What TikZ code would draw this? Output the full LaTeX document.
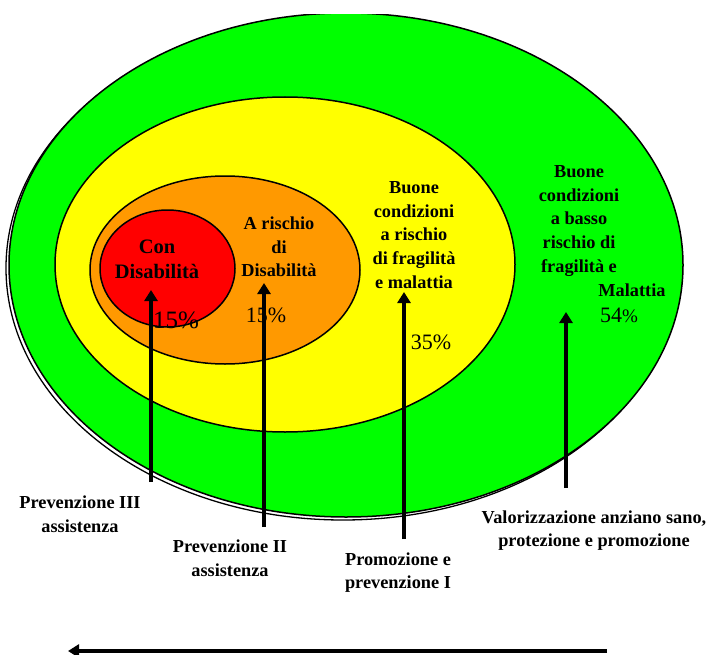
\documentclass[tikz,border=0pt]{standalone}
\usepackage{fontspec}
\setmainfont{Liberation Serif}
\usetikzlibrary{arrows.meta}
\definecolor{cgreen}{HTML}{00FF00}
\definecolor{cyellow}{HTML}{FFFF00}
\definecolor{corange}{HTML}{FF9900}
\definecolor{cred}{HTML}{FF0000}
\tikzset{
  ring/.style={draw=black, line width=1.5bp},
  lbl/.style={font=\bfseries\fontsize{18.3bp}{23.7bp}\selectfont, align=center, inner sep=0pt},
  pct/.style={font=\fontsize{22bp}{24bp}\selectfont, inner sep=0pt},
  uparrow/.style={line width=4.5bp, -{Triangle[width=13bp,length=11bp]}},
  timearrow/.style={line width=3.5bp, -{Triangle[width=13bp,length=11bp]}}
}
\begin{document}
\begin{tikzpicture}[x=1bp,y=-1bp]
\useasboundingbox (0,0) rectangle (709,655);
% rings
\begin{scope}
  \clip (0,15) rectangle (709,655);
  \draw[line width=1.3bp] (343,268) ellipse [x radius=337, y radius=252];
  \draw[ring, fill=cgreen] (346,265) ellipse [x radius=337, y radius=252];
\end{scope}
\draw[ring, fill=cyellow] (285,264.5) ellipse [x radius=230, y radius=167.5];
\draw[ring, fill=corange] (225,270) ellipse [x radius=135, y radius=94];
\draw[ring, fill=cred] (167.5,268.5) ellipse [x radius=67.5, y radius=58.5];
% labels inside rings
\node[lbl, font=\bfseries\fontsize{20.5bp}{25bp}\selectfont] (con) at (157,259.5) {Con\\Disabilità};
\node[lbl] (rischio) at (279,247) {A rischio\\di\\Disabilità};
\node[lbl] (buone1) at (414,235) {Buone\\condizioni\\a rischio\\di fragilità\\e malattia};
\node[lbl] (buone2) at (579,221) {Buone\\condizioni\\a basso\\rischio di\\fragilità e};
\node[lbl] (malattia) at (632,290) {Malattia};
\node[pct, font=\fontsize{25bp}{27bp}\selectfont] (p1) at (176,320) {15\%};
\node[pct] (p2) at (266,315) {15\%};
\node[pct] (p3) at (431,342) {35\%};
\node[pct] (p4) at (619,315) {54{\fontsize{19bp}{20bp}\selectfont\%}};
% bottom labels
\node[lbl] (l1) at (80,514.5) {Prevenzione III\\assistenza};
\node[lbl] (l2) at (230,558) {Prevenzione II\\assistenza};
\node[lbl] (l3) at (398,572.5) {Promozione e\\prevenzione I};
\node[lbl] (l4) at (594,530.5) {Valorizzazione anziano sano,\\protezione e promozione};
% arrows
\coordinate (a1b) at (151,482); \coordinate (a1t) at (151,290);
\coordinate (a2b) at (264,527); \coordinate (a2t) at (264,283);
\coordinate (a3b) at (404,539); \coordinate (a3t) at (404,292);
\coordinate (a4b) at (566,488); \coordinate (a4t) at (566,312);
\draw[uparrow] (a1b) -- (a1t);
\draw[uparrow] (a2b) -- (a2t);
\draw[uparrow] (a3b) -- (a3t);
\draw[uparrow] (a4b) -- (a4t);
\coordinate (tr) at (607,651); \coordinate (tl) at (68,651);
\draw[timearrow] (tr) -- (tl);
\end{tikzpicture}
\end{document}
